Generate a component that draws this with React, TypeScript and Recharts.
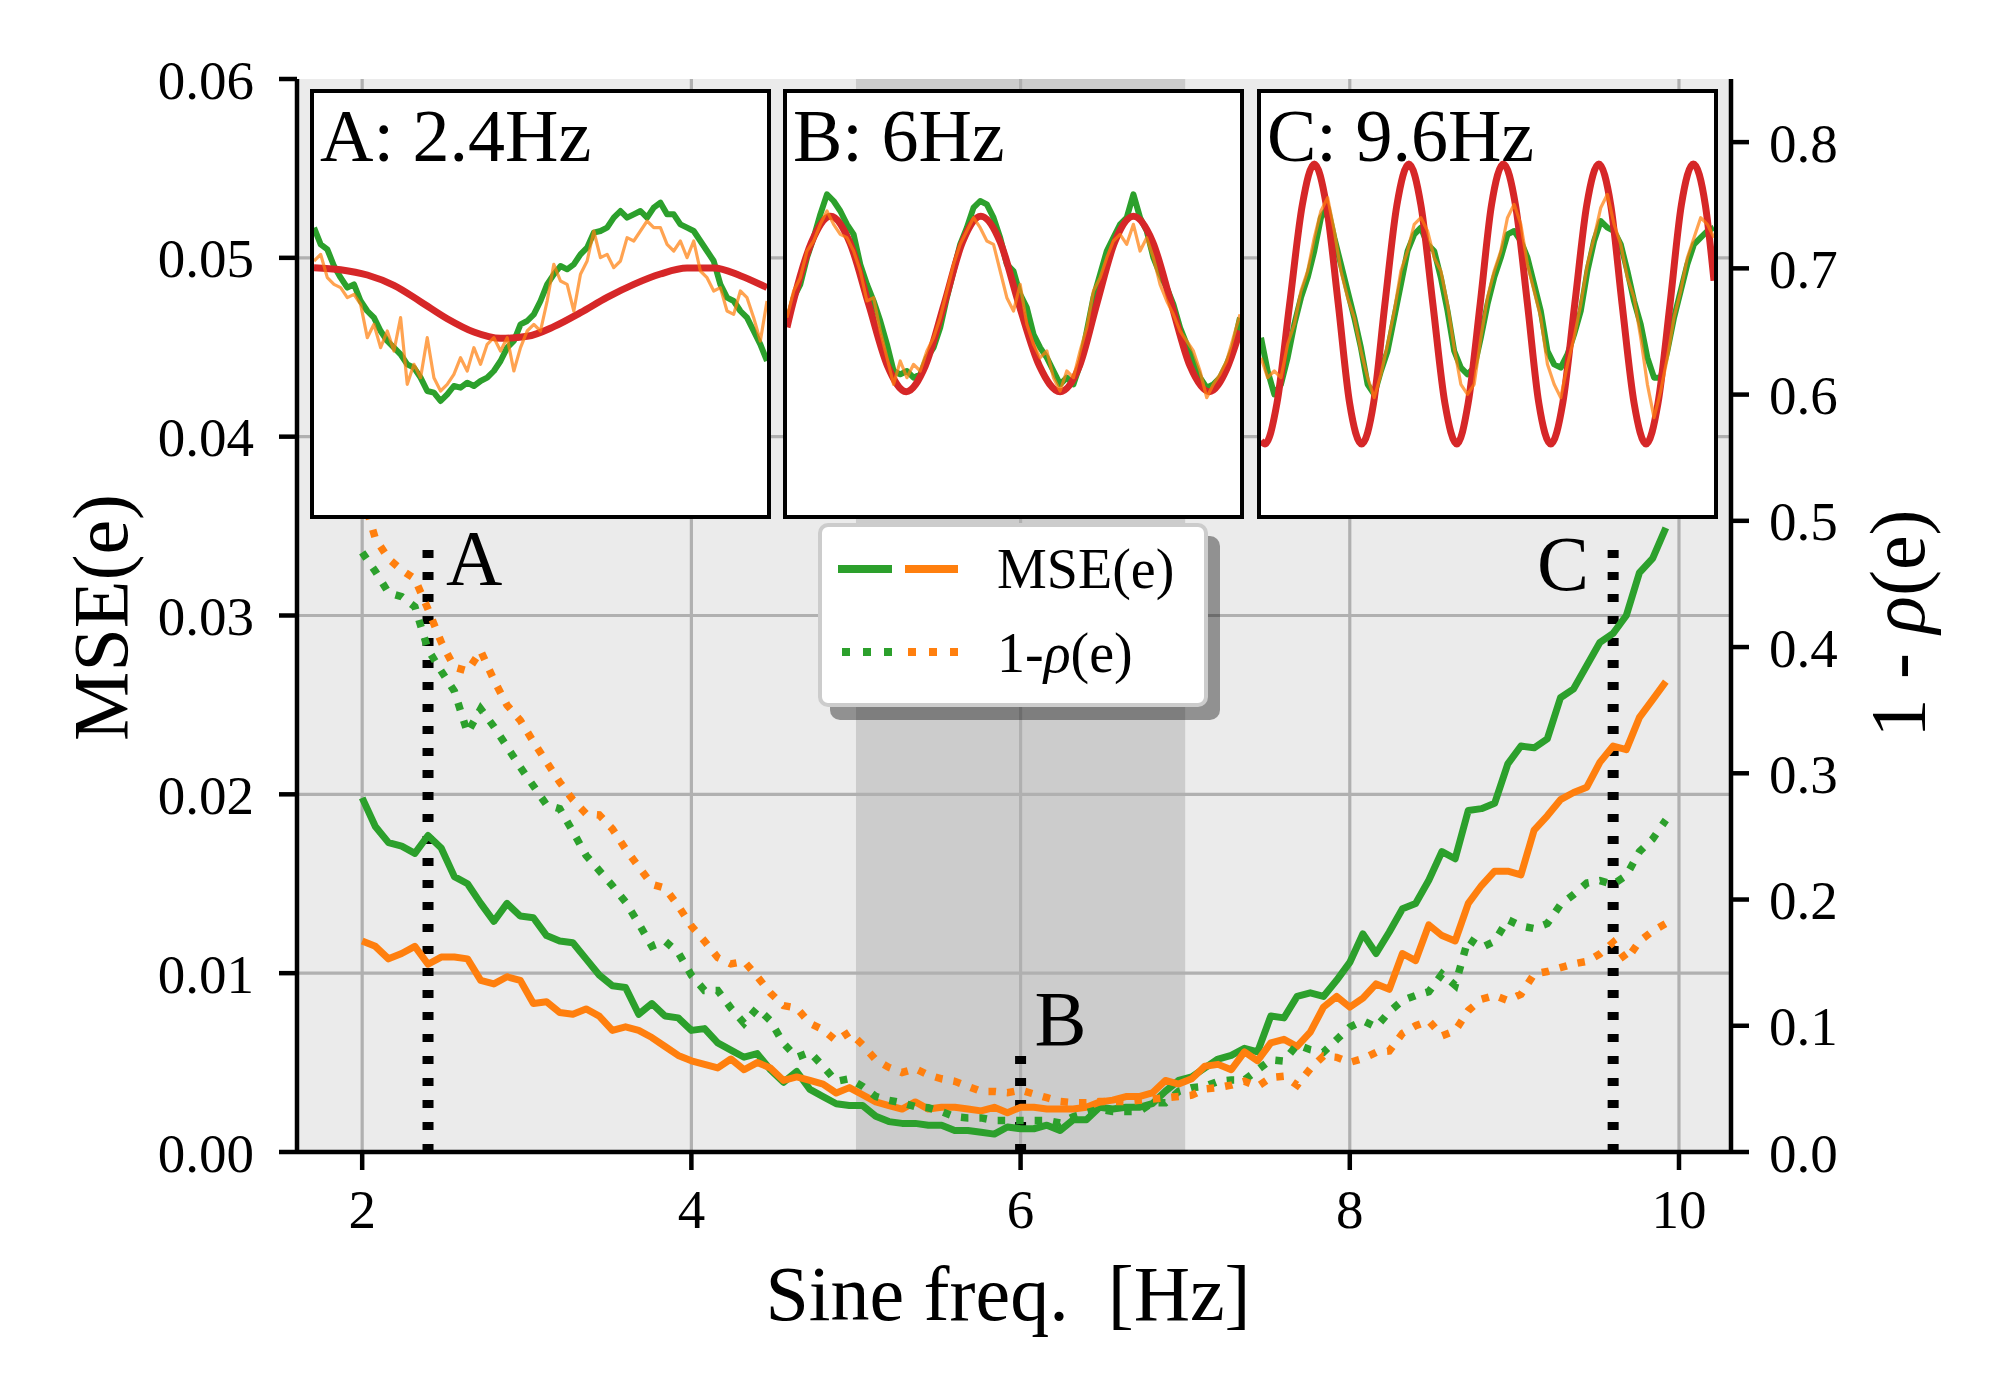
import React from 'react';
import {
  LineChart,
  Line,
  XAxis,
  YAxis,
  CartesianGrid,
  ReferenceArea,
  ReferenceLine,
  Legend,
} from 'recharts';

const FONT = "'Liberation Serif', 'Times New Roman', serif";
const GREEN = '#2ca02c';
const ORANGE = '#ff7f0e';
const RED = '#d62728';

// ---------- main chart data ----------
const FREQ = [
  2, 2.08, 2.16, 2.24, 2.32, 2.4, 2.48, 2.56, 2.64, 2.72, 2.8, 2.88, 2.96, 3.04, 3.12, 3.2, 3.28, 3.36, 3.44, 3.52,
  3.6, 3.68, 3.76, 3.84, 3.92, 4, 4.08, 4.16, 4.24, 4.32, 4.4, 4.48, 4.56, 4.64, 4.72, 4.8, 4.88, 4.96, 5.04, 5.12,
  5.2, 5.28, 5.36, 5.44, 5.52, 5.6, 5.68, 5.76, 5.84, 5.92, 6, 6.08, 6.16, 6.24, 6.32, 6.4, 6.48, 6.56, 6.64, 6.72,
  6.8, 6.88, 6.96, 7.04, 7.12, 7.2, 7.28, 7.36, 7.44, 7.52, 7.6, 7.68, 7.76, 7.84, 7.92, 8, 8.08, 8.16, 8.24, 8.32,
  8.4, 8.48, 8.56, 8.64, 8.72, 8.8, 8.88, 8.96, 9.04, 9.12, 9.2, 9.28, 9.36, 9.44, 9.52, 9.6, 9.68, 9.76, 9.84, 9.92,
];

const MSE_GREEN = [
  0.0198, 0.0182, 0.0173, 0.0171, 0.0167, 0.0177, 0.017, 0.0154, 0.015, 0.0139, 0.0129, 0.0139, 0.0132, 0.0131, 0.0121,
  0.0118, 0.0117, 0.0108, 0.0099, 0.0093, 0.0092, 0.0077, 0.0083, 0.0076, 0.0075, 0.0068, 0.0069, 0.0061, 0.0057, 0.0053,
  0.0055, 0.0046, 0.0039, 0.0045, 0.0035, 0.0031, 0.0027, 0.0026,
  0.0026, 0.002, 0.0017, 0.0016, 0.0016, 0.0015, 0.0015, 0.0012, 0.0012, 0.0011, 0.001, 0.0014, 0.0013, 0.0013, 0.0015,
  0.0012, 0.0018, 0.0018, 0.0025, 0.0024, 0.0025, 0.0025, 0.0027, 0.0034, 0.004, 0.0042, 0.0047, 0.0052, 0.0054, 0.0058,
  0.0056, 0.0076, 0.0075, 0.0087, 0.0089, 0.0087, 0.0096,
  0.0106, 0.0122, 0.0111, 0.0123, 0.0136, 0.0139, 0.0152, 0.0168, 0.0164, 0.0191, 0.0192, 0.0195, 0.0217, 0.0227, 0.0226,
  0.0231, 0.0254, 0.0259, 0.0272, 0.0285, 0.029, 0.03, 0.0324, 0.0332, 0.0349,
];

const MSE_ORANGE = [
  0.0118, 0.0115, 0.0108, 0.0111, 0.0115, 0.0105, 0.0109, 0.0109, 0.0108, 0.0096, 0.0094, 0.0098, 0.0096, 0.0083, 0.0084,
  0.0078, 0.0077, 0.008, 0.0076, 0.0068, 0.007, 0.0068, 0.0064, 0.0059, 0.0054, 0.0051, 0.0049, 0.0047, 0.0052, 0.0046,
  0.005, 0.0047, 0.004, 0.0042, 0.004, 0.0038, 0.0033, 0.0036,
  0.0032, 0.0028, 0.0026, 0.0024, 0.0028, 0.0024, 0.0025, 0.0025, 0.0024, 0.0023, 0.0025, 0.0022, 0.0025, 0.0025, 0.0024,
  0.0024, 0.0024, 0.0025, 0.0028, 0.0029, 0.0031, 0.0031, 0.0033, 0.004, 0.0038, 0.0041, 0.0048, 0.0049, 0.0046, 0.0056,
  0.0051, 0.0061, 0.0063, 0.0059, 0.0067, 0.0081, 0.0087,
  0.0081, 0.0086, 0.0094, 0.0091, 0.0111, 0.0107, 0.0127, 0.0121, 0.0118, 0.0139, 0.0149, 0.0157, 0.0157, 0.0155, 0.018,
  0.0188, 0.0197, 0.0201, 0.0204, 0.0218, 0.0227, 0.0225, 0.0243, 0.0253, 0.0263,
];

const RHO_GREEN = [
  0.475, 0.46, 0.443, 0.44, 0.432, 0.398, 0.381, 0.365, 0.332, 0.351, 0.337, 0.321, 0.305, 0.29, 0.275, 0.272, 0.254,
  0.235, 0.223, 0.211, 0.198, 0.181, 0.163, 0.167, 0.158, 0.14, 0.128, 0.128, 0.114, 0.102, 0.114, 0.104, 0.086, 0.075,
  0.079, 0.068, 0.056, 0.058,
  0.052, 0.044, 0.041, 0.039, 0.036, 0.035, 0.032, 0.028, 0.027, 0.027, 0.025, 0.025, 0.025, 0.025, 0.025, 0.023, 0.028,
  0.031, 0.034, 0.032, 0.032, 0.032, 0.039, 0.039, 0.048, 0.051, 0.052, 0.056, 0.057, 0.057, 0.065, 0.073, 0.072, 0.085,
  0.081, 0.079, 0.089,
  0.099, 0.104, 0.099, 0.111, 0.12, 0.124, 0.127, 0.141, 0.132, 0.169, 0.162, 0.167, 0.184, 0.179, 0.177, 0.181, 0.196,
  0.204, 0.213, 0.215, 0.212, 0.219, 0.238, 0.248, 0.263,
];

const RHO_ORANGE = [
  0.521, 0.486, 0.47, 0.461, 0.454, 0.43, 0.404, 0.384, 0.381, 0.397, 0.374, 0.354, 0.342, 0.325, 0.309, 0.293, 0.279,
  0.268, 0.267, 0.256, 0.24, 0.226, 0.212, 0.209, 0.195, 0.179, 0.167, 0.154, 0.149, 0.151, 0.139, 0.126, 0.116, 0.114,
  0.102, 0.097, 0.088, 0.095,
  0.085, 0.073, 0.067, 0.063, 0.066, 0.061, 0.058, 0.056, 0.052, 0.048, 0.048, 0.047, 0.049, 0.046, 0.043, 0.04, 0.039,
  0.039, 0.04, 0.04, 0.04, 0.041, 0.042, 0.043, 0.044, 0.045, 0.05, 0.051, 0.053, 0.056, 0.052, 0.059, 0.06, 0.053,
  0.066, 0.076, 0.075,
  0.071, 0.074, 0.079, 0.08, 0.094, 0.1, 0.104, 0.092, 0.096, 0.112, 0.121, 0.124, 0.12, 0.125, 0.141, 0.143, 0.146,
  0.149, 0.151, 0.157, 0.166, 0.152, 0.167, 0.175, 0.181,
];

const X_TICKS = [2, 4, 6, 8, 10];
const LEFT_TICKS = [0, 0.01, 0.02, 0.03, 0.04, 0.05, 0.06];
const RIGHT_TICKS = [0, 0.1, 0.2, 0.3, 0.4, 0.5, 0.6, 0.7, 0.8];
const GRID_Y = [0.01, 0.02, 0.03, 0.04, 0.05];
const X_DOMAIN = [1.604, 10.316];
const LEFT_DOMAIN = [0, 0.06];
const RIGHT_DOMAIN = [0, 0.85];
const BAND = [5, 7];

const MARKER_F = [2.4, 6, 9.6];
const MARKER_TOP = [0.034, 0.0055, 0.034];
const MARKER_TEXT = ['A', 'B', 'C'];
// label placement relative to the top of each marker line (px)
const MARKER_LABEL_STYLE = [
  { dx: 18, dy: 40, anchor: 'start' },
  { dx: 14, dy: -9, anchor: 'start' },
  { dx: -24, dy: 46, anchor: 'end' },
];

const ROWS = FREQ.map((f, i) => ({
  f,
  mseG: MSE_GREEN[i],
  mseO: MSE_ORANGE[i],
  rhoG: RHO_GREEN[i],
  rhoO: RHO_ORANGE[i],
}));

// ---------- inset data (sample index vs. signal) ----------
const GREEN_A = [
  229, 179, 164, 114, 79, 49, 59, 9, -21, -41, -81, -111, -131, -151, -181, -191, -221, -261, -266, -291, -271, -246,
  -251, -236, -246, -231, -221, -201, -171, -131, -111, -61, -51, -31, 9, 59, 89, 114, 104, 119, 149, 169, 214, 219,
  229, 259, 279, 259, 269, 279, 259, 289, 304, 269, 269, 239, 229, 219, 189, 159, 129, 59, 19, 9, -21, -41, -81, -121,
  -171,
];
const ORANGE_A = [
  129, 149, 79, 59, 49, 19, 29, -1, -101, -61, -131, -81, -141, -41, -241, -181, -221, -101, -221, -261, -241, -211,
  -161, -201, -131, -181, -121, -101, -141, -101, -201, -131, -81, -61, -81, 9, 119, 69, 59, -21, 89, 129, 219, 139,
  149, 109, 129, 199, 189, 219, 249, 229, 229, 179, 159, 189, 139, 189, 99, 79, 39, 49, -21, -31, 39, 19, -41, -111, 9,
];
const RED_A_K = [0, 4, 8, 12, 16, 20, 24, 28, 32, 36, 40, 44, 48, 52, 56, 60, 64, 68];
const RED_A = [109, 103, 87, 56, 7, -44, -84, -103, -97, -68, -26, 20, 59, 90, 108, 108, 85, 49];

const GREEN_B = [
  -61, 19, 59, 139, 199, 269, 329, 309, 279, 239, 209, 119, 59, 9, -51, -121, -201, -211, -201, -221, -211, -161, -131,
  -71, 19, 99, 179, 229, 289, 309, 299, 259, 199, 119, 99, 29, -11, -91, -131, -161, -201, -241, -221, -241, -181, -81,
  19, 89, 159, 199, 239, 259, 329, 259, 219, 139, 89, 49, -1, -71, -121, -171, -221, -251, -241, -221, -181, -131, -41,
];
const ORANGE_B = [
  -41, 39, 79, 159, 189, 239, 279, 239, 209, 199, 159, 99, 9, 19, -81, -161, -241, -171, -221, -181, -201, -141, -101,
  -41, 39, 119, 179, 219, 259, 229, 189, 179, 99, 19, -21, 59, -61, -121, -161, -141, -221, -261, -201, -221, -141, -71,
  39, 79, 139, 189, 209, 179, 239, 159, 199, 139, 59, 9, -31, -81, -111, -141, -201, -281, -241, -211, -171, -101, -31,
];
const RED_B_K = [
  0, 0.85, 3.7, 6.55, 9.4, 12.25, 15.1, 17.9, 20.75, 23.6, 26.35, 29.1, 32.0, 34.8, 37.9, 41.0, 43.9, 46.5, 49.2, 52.0,
  54.9, 57.7, 60.5, 63.4, 66.0, 68,
];
const RED_B = [
  -70, 0, 186, 263, 186, 0, -186, -263, -186, 0, 186, 263, 186, 0, -186, -263, -186, 0, 186, 263, 186, 0, -186, -263,
  -195, -80,
];

const GREEN_C = [
  -101, -201, -271, -241, -161, -61, 19, 79, 159, 259, 289, 199, 119, 39, -41, -131, -241, -271, -201, -141, -41, 59,
  159, 209, 229, 179, 159, 79, -21, -141, -191, -211, -191, -101, -1, 79, 139, 209, 219, 189, 139, 59, -21, -141, -181,
  -191, -151, -91, -21, 99, 189, 249, 229, 219, 179, 99, 9, -61, -161, -221, -221, -141, -41, 39, 119, 179, 199, 219, 229,
];
const ORANGE_C = [
  -161, -221, -201, -221, -121, -61, 39, 99, 199, 279, 319, 219, 99, 19, -41, -141, -221, -281, -211, -121, -21, 99,
  159, 239, 259, 219, 139, 99, -1, -131, -241, -271, -241, -101, 19, 99, 159, 259, 299, 239, 119, 39, -41, -181, -241,
  -281, -181, -101, -1, 119, 199, 289, 329, 239, 179, 79, 19, -101, -241, -341, -261, -161, -41, 39, 139, 199, 259, 239,
  199,
];
const RED_C_K = [
  0, 0.6, 2.4, 4.3, 6.2, 8.0, 9.8, 11.6, 13.3, 15.1, 16.9, 18.6, 20.4, 22.2, 24.0, 25.8, 27.6, 29.4, 31.1, 32.9, 34.6,
  36.4, 38.2, 40.0, 41.7, 43.5, 45.3, 47.1, 48.9, 50.7, 52.5, 54.2, 56.0, 57.8, 59.6, 61.4, 63.1, 64.9, 66.7, 68,
];
const RED_C = [
  -410, -420, -297, 0, 297, 420, 297, 0, -297, -420, -297, 0, 297, 420, 297, 0, -297, -420, -297, 0, 297, 420, 297, 0,
  -297, -420, -297, 0, 297, 420, 297, 0, -297, -420, -297, 0, 297, 420, 297, 70,
];

const INSET_TITLES = ['A: 2.4Hz', 'B: 6Hz', 'C: 9.6Hz'];
const INSET_GREEN = [GREEN_A, GREEN_B, GREEN_C];
const INSET_ORANGE = [ORANGE_A, ORANGE_B, ORANGE_C];
const INSET_RED_K = [RED_A_K, RED_B_K, RED_C_K];
const INSET_RED = [RED_A, RED_B, RED_C];
const INSET_X_DOMAIN = [0, 68];
const INSET_Y_DOMAIN = [-633, 633];

// layout of the insets (px)
const INSET_LEFT = [310, 783, 1257];
const INSET_TOP = 89;
const INSET_W = 461;
const INSET_H = 430;
const INSET_BORDER = 4;

function Inset({ idx }: { idx: number }) {
  const g = INSET_GREEN[idx].map((v, i) => ({ k: i, v }));
  const o = INSET_ORANGE[idx].map((v, i) => ({ k: i, v }));
  const r = INSET_RED_K[idx].map((k, i) => ({ k, v: INSET_RED[idx][i] }));
  const iw = INSET_W - 2 * INSET_BORDER;
  const ih = INSET_H - 2 * INSET_BORDER;
  return (
    <div
      style={{
        position: 'absolute',
        left: INSET_LEFT[idx],
        top: INSET_TOP,
        width: INSET_W,
        height: INSET_H,
        boxSizing: 'border-box',
        border: `${INSET_BORDER}px solid #000`,
        background: '#fff',
        overflow: 'hidden',
      }}
    >
      <LineChart width={iw} height={ih} margin={{ top: 0, right: 0, bottom: 0, left: 0 }}>
        <XAxis type="number" dataKey="k" domain={INSET_X_DOMAIN} hide allowDataOverflow />
        <YAxis type="number" domain={INSET_Y_DOMAIN} hide allowDataOverflow />
        <Line data={g} dataKey="v" type="linear" stroke={GREEN} strokeWidth={6} dot={false} activeDot={false} isAnimationActive={false} strokeLinejoin="round" />
        <Line data={r} dataKey="v" type="monotone" stroke={RED} strokeWidth={7} dot={false} activeDot={false} isAnimationActive={false} />
        <Line data={o} dataKey="v" type="linear" stroke={ORANGE} strokeOpacity={0.72} strokeWidth={3.2} dot={false} activeDot={false} isAnimationActive={false} strokeLinejoin="round" />
      </LineChart>
      <svg width={iw} height={ih} style={{ position: 'absolute', left: 0, top: 0, pointerEvents: 'none' }}>
        <text x={6} y={68} fontSize={74} fontFamily={FONT} fill="#000">
          {INSET_TITLES[idx]}
        </text>
      </svg>
    </div>
  );
}

function LegendBox() {
  return (
    <div
      style={{
        width: 390,
        height: 184,
        boxSizing: 'border-box',
        background: '#fff',
        border: '4px solid #cccccc',
        borderRadius: 10,
        boxShadow: '12px 13px 0 0 rgba(0,0,0,0.38)',
        position: 'relative',
      }}
    >
      <svg width={382} height={176} style={{ position: 'absolute', left: 0, top: 0 }}>
        <line x1={16} x2={70} y1={42} y2={42} stroke={GREEN} strokeWidth={8} />
        <line x1={83} x2={136} y1={42} y2={42} stroke={ORANGE} strokeWidth={8} />
        <text x={175} y={61} fontSize={56} fontFamily={FONT} fill="#000">MSE(e)</text>
        <line x1={20} x2={70} y1={125} y2={125} stroke={GREEN} strokeWidth={8} strokeDasharray="8 13" />
        <line x1={86} x2={136} y1={125} y2={125} stroke={ORANGE} strokeWidth={8} strokeDasharray="8 13" />
        <text x={175} y={145} fontSize={56} fontFamily={FONT} fill="#000">
          1-<tspan fontStyle="italic">ρ</tspan>(e)
        </text>
      </svg>
    </div>
  );
}

const tickStyle = { fill: '#000', fontSize: 55, fontFamily: FONT };
const axisStroke = { stroke: '#000', strokeWidth: 4.5 };

const leftTitle = (props: any) => {
  const vb = props.viewBox || {};
  const cx = vb.x + 3;
  const cy = vb.y + vb.height / 2 + 2;
  return (
    <text x={cx} y={cy} transform={`rotate(-90 ${cx} ${cy})`} textAnchor="middle" dominantBaseline="central" fontSize={78} fontFamily={FONT} fill="#000">
      MSE(e)
    </text>
  );
};

const rightTitle = (props: any) => {
  const vb = props.viewBox || {};
  const cx = vb.x + 166;
  const cy = vb.y + vb.height / 2 + 8;
  return (
    <text x={cx} y={cy} transform={`rotate(-90 ${cx} ${cy})`} textAnchor="middle" dominantBaseline="central" fontSize={78} fontFamily={FONT} fill="#000">
      1 - <tspan fontStyle="italic">ρ</tspan>(e)
    </text>
  );
};

const bottomTitle = (props: any) => {
  const vb = props.viewBox || {};
  const cx = vb.x + vb.width / 2 - 6;
  const cy = vb.y + 168;
  return (
    <text x={cx} y={cy} textAnchor="middle" fontSize={78} fontFamily={FONT} fill="#000" style={{ whiteSpace: 'pre' }}>
      {'Sine freq.  [Hz]'}
    </text>
  );
};

const markerLabel = (i: number) => (props: any) => {
  const vb = props.viewBox || {};
  const s = MARKER_LABEL_STYLE[i];
  return (
    <text x={vb.x + s.dx} y={vb.y + s.dy} textAnchor={s.anchor} fontSize={78} fontFamily={FONT} fill="#000">
      {MARKER_TEXT[i]}
    </text>
  );
};

export default function App() {
  return (
    <div style={{ position: 'absolute', left: 0, top: 0, width: 2000, height: 1400, background: '#fff', fontFamily: FONT }}>
      <LineChart width={2000} height={1400} data={ROWS} margin={{ top: 79, right: 69, bottom: 98, left: 97 }}>
        <CartesianGrid yAxisId="left" fill="#ebebeb" horizontal={false} vertical={false} />
        <XAxis
          dataKey="f"
          type="number"
          domain={X_DOMAIN}
          ticks={X_TICKS}
          allowDataOverflow
          height={150}
          tickSize={18}
          tickMargin={19}
          tick={tickStyle}
          axisLine={axisStroke}
          tickLine={axisStroke}
          label={bottomTitle}
        />
        <XAxis
          xAxisId="top"
          orientation="top"
          dataKey="f"
          type="number"
          domain={X_DOMAIN}
          allowDataOverflow
          height={0}
          tick={false}
          tickLine={false}
          axisLine={axisStroke}
        />
        <YAxis
          yAxisId="left"
          type="number"
          domain={LEFT_DOMAIN}
          ticks={LEFT_TICKS}
          allowDataOverflow
          width={200}
          tickSize={18}
          tickMargin={25}
          tick={tickStyle}
          tickFormatter={(v: number) => v.toFixed(2)}
          axisLine={axisStroke}
          tickLine={axisStroke}
          label={leftTitle}
        />
        <YAxis
          yAxisId="right"
          orientation="right"
          type="number"
          domain={RIGHT_DOMAIN}
          ticks={RIGHT_TICKS}
          allowDataOverflow
          width={200}
          tickSize={18}
          tickMargin={20}
          tick={tickStyle}
          tickFormatter={(v: number) => v.toFixed(1)}
          axisLine={axisStroke}
          tickLine={axisStroke}
          label={rightTitle}
        />
        <ReferenceArea yAxisId="left" x1={BAND[0]} x2={BAND[1]} fill="#cccccc" fillOpacity={1} stroke="none" />
        {X_TICKS.map((x) => (
          <ReferenceLine key={'gx' + x} yAxisId="left" x={x} stroke="#b0b0b0" strokeWidth={3.2} />
        ))}
        {GRID_Y.map((y) => (
          <ReferenceLine key={'gy' + y} yAxisId="left" y={y} stroke="#b0b0b0" strokeWidth={3.2} />
        ))}
        {MARKER_F.map((f, i) => (
          <ReferenceLine
            key={'m' + i}
            yAxisId="left"
            segment={[
              { x: f, y: 0 },
              { x: f, y: MARKER_TOP[i] },
            ]}
            stroke="#000"
            strokeWidth={11}
            strokeDasharray="8 14"
            label={markerLabel(i)}
          />
        ))}
        <Line yAxisId="left" dataKey="mseG" type="linear" stroke={GREEN} strokeWidth={7} dot={false} activeDot={false} isAnimationActive={false} strokeLinejoin="round" />
        <Line yAxisId="left" dataKey="mseO" type="linear" stroke={ORANGE} strokeWidth={7} dot={false} activeDot={false} isAnimationActive={false} strokeLinejoin="round" />
        <Line yAxisId="right" dataKey="rhoG" type="linear" stroke={GREEN} strokeWidth={7.5} strokeDasharray="7.5 11" dot={false} activeDot={false} isAnimationActive={false} />
        <Line yAxisId="right" dataKey="rhoO" type="linear" stroke={ORANGE} strokeWidth={7.5} strokeDasharray="7.5 11" dot={false} activeDot={false} isAnimationActive={false} />
        <Legend
          layout="horizontal"
          verticalAlign="middle"
          align="center"
          wrapperStyle={{ left: 818, top: 523, width: 390, height: 184 }}
          content={() => <LegendBox />}
        />
      </LineChart>
      {[0, 1, 2].map((i) => (
        <Inset key={i} idx={i} />
      ))}
    </div>
  );
}
